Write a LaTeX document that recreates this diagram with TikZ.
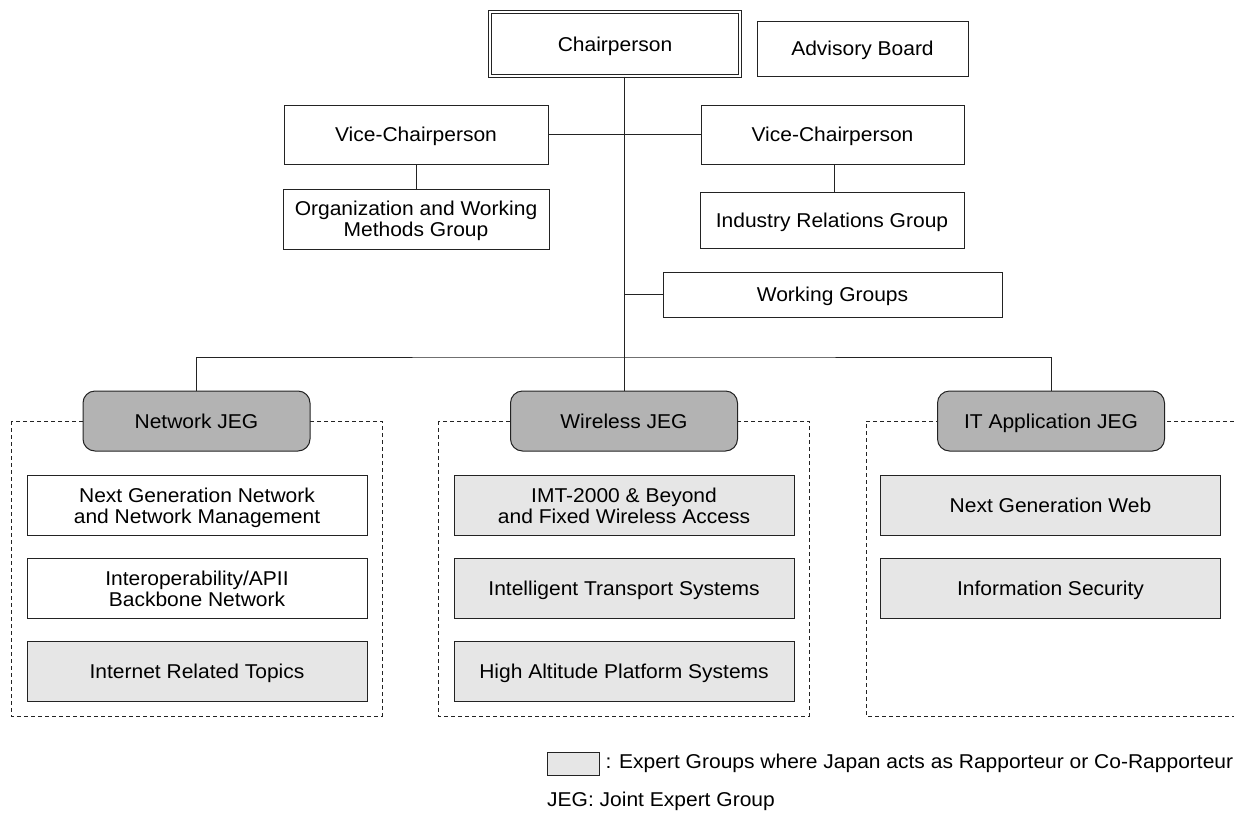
\documentclass[tikz,border=0pt]{standalone}
\usepackage{fontspec}
\setmainfont{Liberation Sans}[FakeStretch=1.05]
\definecolor{jeggray}{RGB}{179, 179, 179}
\definecolor{rappgray}{RGB}{230, 230, 230}
\definecolor{linegray}{RGB}{35, 35, 35}
\usetikzlibrary{positioning}
\tikzset{
  orgbox/.style={draw=linegray, fill=white, line width=1pt, align=center, inner sep=2pt,
    text height=14.3pt, text depth=0pt, font=\fontsize{20}{21}\selectfont},
  twoline/.style={text height=35.3pt},
  expbox/.style={orgbox, fill=rappgray, minimum width=340pt, minimum height=60pt},
  plainbox/.style={orgbox, minimum width=340pt, minimum height=60pt},
  jegbox/.style={orgbox, fill=jeggray, rounded corners=12pt, minimum width=227pt, minimum height=60pt},
  jegframe/.style={draw=linegray, line width=0.8pt, dash pattern=on 4pt off 3pt},
  link/.style={draw=linegray, line width=1pt}
}

\begin{document}
\begin{tikzpicture}[x=1pt, y=-1pt]
  \useasboundingbox (0,0) rectangle (1234,814);

  % JEG frames (drawn first, the JEG boxes sit on them)
  \draw[jegframe] (11,421) rectangle (382,716);
  \draw[jegframe] (438,421) rectangle (809,716);
  \draw[jegframe] (1234,421) -- (866,421) -- (866,716) -- (1234,716);

  % Top level
  \node[orgbox, double, double distance=2pt, minimum width=250pt, minimum height=64pt] (chair) at (615,44) {Chairperson};
  \node[orgbox, minimum width=211pt, minimum height=55pt] (advisory) at (862.5,48.5) {Advisory Board};

  % Vice chairs and their groups
  \node[orgbox, minimum width=264pt, minimum height=59pt] (vicel) at (416,134.5) {Vice-Chairperson};
  \node[orgbox, minimum width=263pt, minimum height=59pt] (vicer) at (832.5,134.5) {Vice-Chairperson};
  \node[orgbox, twoline, minimum width=266pt, minimum height=60pt] (orgwm) at (416,219) {Organization and Working\\Methods Group};
  \node[orgbox, minimum width=264pt, minimum height=56pt] (industry) at (832,220) {Industry Relations Group};
  \node[orgbox, minimum width=339pt, minimum height=45pt] (wgroups) at (832.5,294.5) {Working Groups};

  % JEGs
  \node[jegbox] (njeg) at (196.5,421) {Network JEG};
  \node[jegbox] (wjeg) at (624,421) {Wireless JEG};
  \node[jegbox] (ijeg) at (1051,421) {IT Application JEG};

  % Expert groups
  \node[plainbox, twoline] (ngn) at (197,505.5) {Next Generation Network\\and Network Management};
  \node[plainbox, twoline] (apii) at (197,588.5) {Interoperability/APII\\Backbone Network};
  \node[expbox] (inet) at (197,671.5) {Internet Related Topics};

  \node[expbox, twoline] (imt) at (624,505.5) {IMT-2000 \& Beyond\\and Fixed Wireless Access};
  \node[expbox] (its) at (624,588.5) {Intelligent Transport Systems};
  \node[expbox] (haps) at (624,671.5) {High Altitude Platform Systems};

  \node[expbox] (ngweb) at (1050.5,505.5) {Next Generation Web};
  \node[expbox] (infosec) at (1050.5,588.5) {Information Security};

  % Connectors
  \coordinate (jbar) at (624,357);
  \path[link] (wjeg.north |- chair.south) -- (wjeg.north);
  \path[link] (vicel.east) -- (vicer.west);
  \path[link] (vicel.south) -- (orgwm.north);
  \path[link] (vicer.south -| 834,0) -- (industry.north -| 834,0);
  \path[link] (wgroups.west) -- (wgroups.west -| wjeg.north);
  \path[link] (njeg.north) |- (jbar) -| (ijeg.north);

  % Legend
  \node[draw=linegray, fill=rappgray, line width=0.8pt, minimum width=52pt, minimum height=23pt, inner sep=0pt] (swatch) at (573,763.5) {};
  \node[font=\fontsize{20}{21}\selectfont, inner sep=0pt, right=6pt of swatch] (swatchtxt) {: Expert Groups where Japan acts as Rapporteur or Co-Rapporteur};
  \node[font=\fontsize{20}{21}\selectfont, inner sep=0pt, anchor=west] (jegnote) at (547,801) {JEG: Joint Expert Group};
\end{tikzpicture}
\end{document}
